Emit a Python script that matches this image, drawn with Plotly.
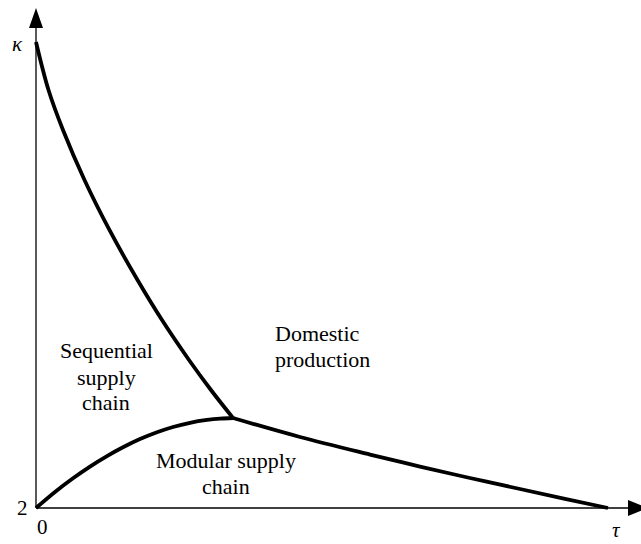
import plotly.graph_objects as go

# Boundary curves (tau on x, kappa on y); arbitrary units
seq_tau = [0.0, 0.02185, 0.0472, 0.0848, 0.1284, 0.1775, 0.2203, 0.2675, 0.3059, 0.3444]
seq_kappa = [10.0, 9.176, 8.489, 7.631, 6.773, 5.914, 5.227, 4.541, 4.026, 3.545]

mod_tau = [0.0, 0.0332, 0.0647, 0.0944, 0.1241, 0.1521, 0.1818, 0.2115, 0.2395,
           0.2692, 0.2990, 0.3217, 0.3444]
mod_kappa = [2.0, 2.275, 2.510, 2.711, 2.891, 3.042, 3.183, 3.300, 3.391,
             3.463, 3.512, 3.535, 3.545]

dom_tau = [0.3444, 0.4615, 0.5839, 0.6713, 0.7587, 0.8462, 0.9248, 1.0]
dom_kappa = [3.545, 3.219, 2.918, 2.712, 2.515, 2.326, 2.155, 2.0]

# region labels: text, tau, kappa, horizontal anchor
region_labels = [
    ("Sequential", 0.1224, 4.712, "center"),
    ("supply", 0.1224, 4.232, "center"),
    ("chain", 0.1224, 3.803, "center"),
    ("Domestic", 0.4143, 5.004, "left"),
    ("production", 0.4143, 4.541, "left"),
    ("Modular supply", 0.3313, 2.807, "center"),
    ("chain", 0.3313, 2.361, "center"),
]

# axis symbols and tick labels: text, tau, kappa
axis_labels = [
    ("<i>κ</i>", -0.0332, 9.966),
    ("2", -0.0236, 2.0),
    ("0", 0.0105, 1.674),
    ("<i>τ</i>", 1.014, 1.622),
]

X_RANGE = [-36 / 572, 605 / 572]
Y_RANGE = [2 - 36 / 58.25, 2 + 508 / 58.25]
Y_TIP = 2 + 500 / 58.25
X_TIP = (648 - 36) / 572

FONT = "Liberation Serif, Times New Roman, serif"

fig = go.Figure()
line_style = dict(color="black", width=3.8)
for xs, ys in [(seq_tau, seq_kappa), (mod_tau, mod_kappa), (dom_tau, dom_kappa)]:
    fig.add_trace(go.Scatter(x=xs, y=ys, mode="lines",
                             line=dict(shape="spline", smoothing=1.0, **line_style)))

shapes = [
    dict(type="line", xref="x", yref="y", x0=0, x1=0, y0=2, y1=Y_TIP - 0.2,
         line=dict(color="black", width=1.3), layer="below"),
    dict(type="line", xref="x", yref="y", x0=0, x1=X_TIP - 0.02, y0=2, y1=2,
         line=dict(color="black", width=1.3), layer="below"),
    dict(type="path", xref="x", yref="y", xsizemode="pixel", ysizemode="pixel",
         xanchor=0, yanchor=Y_TIP, path="M0,0 L-7,-20 L7,-20 Z",
         fillcolor="black", line=dict(color="black", width=0)),
    dict(type="path", xref="x", yref="y", xsizemode="pixel", ysizemode="pixel",
         xanchor=X_TIP, yanchor=2, path="M0,0 L-20,8 L-20,-8 Z",
         fillcolor="black", line=dict(color="black", width=0)),
]

annotations = []
for text, x, y, anchor in region_labels:
    annotations.append(dict(x=x, y=y, xref="x", yref="y", text=text, showarrow=False,
                            xanchor=anchor, yanchor="middle",
                            font=dict(family=FONT, size=22, color="black")))
for text, x, y in axis_labels:
    annotations.append(dict(x=x, y=y, xref="x", yref="y", text=text, showarrow=False,
                            xanchor="center", yanchor="middle",
                            font=dict(family=FONT, size=21, color="black")))

fig.update_layout(
    width=641, height=544,
    margin=dict(l=0, r=0, t=0, b=0, pad=0),
    plot_bgcolor="white", paper_bgcolor="white",
    showlegend=False,
    xaxis=dict(range=X_RANGE, visible=False, fixedrange=True),
    yaxis=dict(range=Y_RANGE, visible=False, fixedrange=True),
    shapes=shapes,
    annotations=annotations,
)

fig.write_html("out.html", config={"displayModeBar": False},
               post_script="document.body.style.margin='0px';")
